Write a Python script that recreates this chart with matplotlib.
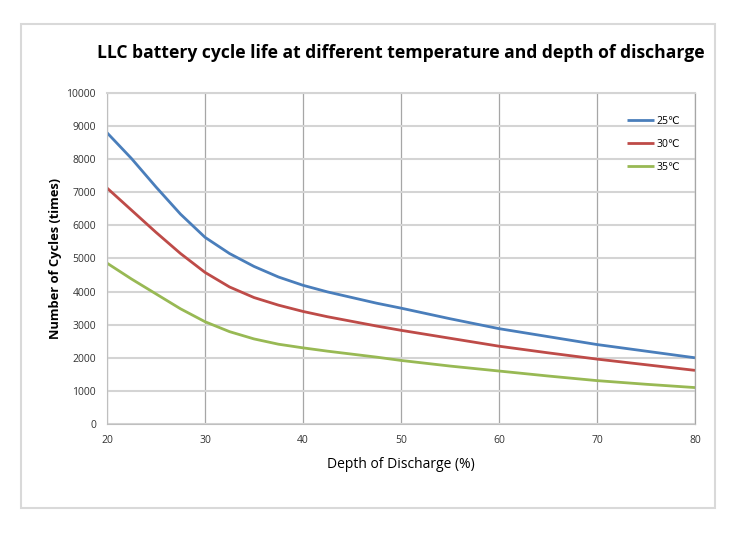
import matplotlib
matplotlib.use("Agg")
import matplotlib.pyplot as plt
from matplotlib.patches import Rectangle

# depth of discharge (%) and cycle counts
dod = [20, 22.5, 25, 27.5, 30, 32.5, 35, 37.5, 40, 42.5, 45, 47.5, 50, 55, 60, 65, 70, 75, 80]
cycles_25 = [8800, 8020, 7160, 6340, 5640, 5150, 4760, 4440, 4190, 3990, 3820, 3650, 3500,
             3180, 2880, 2640, 2400, 2200, 2000]
cycles_30 = [7130, 6460, 5790, 5150, 4580, 4140, 3820, 3590, 3400, 3240, 3100, 2960, 2830,
             2590, 2350, 2150, 1960, 1790, 1620]
cycles_35 = [4860, 4380, 3930, 3480, 3090, 2790, 2570, 2410, 2300, 2200, 2110, 2020, 1920,
             1750, 1600, 1450, 1310, 1200, 1100]
labels = ['25℃', '30℃', '35℃']
colors = ['#4a7ebb', '#be4b48', '#98b954']

plt.rcParams['font.family'] = ['Open Sans', 'DejaVu Sans']

fig = plt.figure(figsize=(7.42, 5.35), dpi=100)
ax = fig.add_axes([0.1442, 0.2075, 0.7925, 0.6187])

for ys, lab, c in zip([cycles_25, cycles_30, cycles_35], labels, colors):
    ax.plot(dod, ys, color=c, linewidth=2, label=lab, solid_capstyle='butt', solid_joinstyle='round')

ax.set_xlim(20, 80)
ax.set_ylim(0, 10000)
ax.set_xticks(range(20, 81, 10))
ax.set_yticks(range(0, 10001, 1000))
ax.tick_params(length=0, labelsize=7.5, pad=8, colors='#333333')

ax.yaxis.grid(True, color='#d4d4d4', linewidth=1.5)
ax.xaxis.grid(True, color='#a6a6a6', linewidth=0.9)
ax.set_axisbelow(True)
for s in ax.spines.values():
    s.set_visible(False)
ax.spines['left'].set_visible(True)
ax.spines['left'].set_color('#bfbfbf')
ax.spines['bottom'].set_visible(True)
ax.spines['bottom'].set_color('#bfbfbf')
ax.spines['right'].set_visible(True)
ax.spines['right'].set_color('#a6a6a6')
ax.spines['right'].set_linewidth(0.9)
ax.spines['top'].set_visible(True)
ax.spines['top'].set_color('#d4d4d4')
ax.spines['top'].set_linewidth(1.5)

ax.set_xlabel('Depth of Discharge (%)', fontsize=10, labelpad=8)
ax.set_ylabel('Number of Cycles (times)', fontsize=9.3, fontweight='bold', labelpad=3)

fig.text(401 / 742, 1 - 53 / 535, 'LLC battery cycle life at different temperature and depth of discharge',
         ha='center', va='center', fontsize=12.6, fontweight='bold')

leg = ax.legend(loc='upper right', bbox_to_anchor=(0.99, 0.96), frameon=False,
                fontsize=7.5, handlelength=2.6, handletextpad=0.2, labelspacing=1.15)

# outer chart border
fig.patches.append(Rectangle((21 / 742, 1 - 508 / 535), (715 - 21) / 742, (508 - 24) / 535,
                             transform=fig.transFigure, fill=False, edgecolor='#d9d9d9', linewidth=1.5))

fig.savefig('out.png', dpi=100)
